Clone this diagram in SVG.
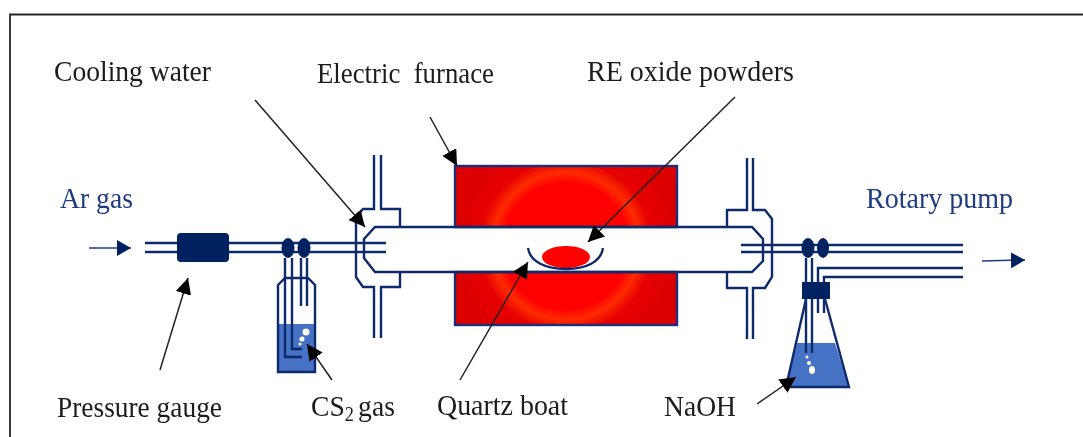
<svg xmlns="http://www.w3.org/2000/svg" width="1083" height="437" viewBox="0 0 1083 437">
<style>
.t{font-family:"Liberation Serif","Times New Roman",serif;font-size:30px;fill:#1c1c1c}
.b{fill:#1f3c80}
.p{fill:none;stroke:#0f2a6b;stroke-width:2.4}
.s{fill:#002060}
.liq{fill:#4472c4}
.bub{fill:#fff}
.fur{fill:url(#heat);stroke:#1a2f7a;stroke-width:2.4}
.ld{fill:none;stroke:#222;stroke-width:1.5}
.bl{fill:none;stroke:#1f3c80;stroke-width:1.5}
</style>
<defs>
<filter id="soft" x="0" y="0" width="100%" height="100%"><feGaussianBlur stdDeviation="0.45"/></filter>
<radialGradient id="heat" gradientUnits="userSpaceOnUse" cx="566" cy="246" r="115">
<stop offset="0" stop-color="#ff0000"/>
<stop offset=".55" stop-color="#ff0000"/>
<stop offset=".64" stop-color="#ff2c00"/>
<stop offset=".74" stop-color="#e80500"/>
<stop offset="1" stop-color="#dc0000"/>
</radialGradient>
<marker id="ah" markerUnits="userSpaceOnUse" markerWidth="17" markerHeight="16" refX="16" refY="8" orient="auto"><path d="M0 0L16 8L0 16Z" fill="#000"/></marker>
<marker id="ab" markerUnits="userSpaceOnUse" markerWidth="15" markerHeight="16" refX="14" refY="8" orient="auto"><path d="M0 0L14 8L0 16Z" fill="#002060"/></marker>
</defs>
<g filter="url(#soft)">
<rect x="0" y="0" width="1083" height="437" fill="#fff"/>
<path id="frame" d="M1083 14.5H10V437" fill="none" stroke="#222" stroke-width="1.8"/>
<g id="furnace">
<rect class="fur" x="455" y="166" width="222" height="61"/>
<rect class="fur" x="455" y="272" width="222" height="53"/>
</g>
<g id="tube"><path class="p" d="M727 227H375L364 239V258L375 272H727M727 227H752L763 239V261L752 272H727"/></g>
<g id="left-flange"><path class="p" d="M374 155V209H363L356 217V277L363 287H374V338M381 155V209H400V227M400 272V287H381V338"/></g>
<g id="right-flange"><path class="p" d="M747 158V210H727V227M727 272V288H747V339M753 158V210H765L772 219V277L765 288H753V339"/></g>
<g id="gas-line"><path class="p" d="M145 243H386M145 252H386"/></g>
<g id="pressure-gauge"><rect class="s" x="177" y="233" width="52" height="29" rx="4"/></g>
<g id="valves-left"><ellipse class="s" cx="288" cy="248" rx="6.5" ry="10"/><ellipse class="s" cx="304" cy="248" rx="6.5" ry="10"/></g>
<g id="cs2-bottle">
<rect class="liq" x="278" y="324" width="37" height="48"/>
<path class="p" d="M278 285L285 278H308L315 285V372H278Z"/>
<path class="p" d="M285 258V357H302M292 258V349H302M301 258V306M307 258V306"/>
<circle class="bub" cx="306" cy="332" r="3.5"/><circle class="bub" cx="302" cy="339" r="2.5"/><circle class="bub" cx="300" cy="344" r="1.5"/>
</g>
<g id="quartz-boat">
<ellipse cx="566" cy="257" rx="24" ry="11" fill="#ff0000"/>
<path d="M528 248C530 262 546 269 566 269C586 269 601 262 603 248" fill="none" stroke="#0f2a6b" stroke-width="2.4"/>
</g>
<g id="pump-line"><path class="p" d="M741 245H963M741 252H963M818 282V268H963M824 282V277H963"/></g>
<g id="valves-right"><ellipse class="s" cx="808" cy="248" rx="6.5" ry="10"/><ellipse class="s" cx="823" cy="248" rx="6" ry="10"/></g>
<g id="naoh-flask">
<path class="liq" d="M797 343H835L849 387H786Z"/>
<path class="p" d="M806 299L786 387H849L825 299"/>
<path class="p" d="M806 258V353M812 258V353M818 299V313M824 299V313"/>
<rect class="s" x="802" y="282" width="28" height="17"/>
<ellipse class="bub" cx="812" cy="370" rx="3" ry="4"/><circle class="bub" cx="809" cy="363" r="2"/><circle class="bub" cx="807" cy="357" r="1.5"/>
</g>
<g id="connectors">
<path class="ld" marker-end="url(#ah)" d="M255 100L365 227"/>
<path class="ld" marker-end="url(#ah)" d="M160 370L188 278"/>
<path class="ld" marker-end="url(#ah)" d="M332 380L307 344"/>
<path class="ld" marker-end="url(#ah)" d="M430 117L457 166"/>
<path class="ld" marker-end="url(#ah)" d="M735 97L588 242"/>
<path class="ld" marker-end="url(#ah)" d="M460 380L528 262"/>
<path class="ld" marker-end="url(#ah)" d="M757 404L796 377"/>
<path class="bl" marker-end="url(#ab)" d="M89 248L131 248"/>
<path class="bl" marker-end="url(#ab)" d="M982 261L1025 260"/>
</g>
<g id="labels">
<text class="t" x="54" y="81" textLength="157" lengthAdjust="spacingAndGlyphs">Cooling water</text>
<text class="t" x="317" y="83" textLength="177" lengthAdjust="spacingAndGlyphs" xml:space="preserve">Electric  furnace</text>
<text class="t" x="587" y="81" textLength="207" lengthAdjust="spacingAndGlyphs">RE oxide powders</text>
<text class="t b" x="60" y="208" textLength="73" lengthAdjust="spacingAndGlyphs">Ar gas</text>
<text class="t b" x="866" y="208" textLength="147" lengthAdjust="spacingAndGlyphs">Rotary pump</text>
<text class="t" x="57" y="417" textLength="165" lengthAdjust="spacingAndGlyphs">Pressure gauge</text>
<text class="t" transform="translate(311 416) scale(.92 1)">CS<tspan font-size="20" dy="5">2</tspan><tspan font-size="18" dy="-5"> </tspan>gas</text>
<text class="t" x="437" y="415" textLength="131" lengthAdjust="spacingAndGlyphs">Quartz boat</text>
<text class="t" x="664" y="416" textLength="72" lengthAdjust="spacingAndGlyphs">NaOH</text>
</g>
</g>
</svg>
